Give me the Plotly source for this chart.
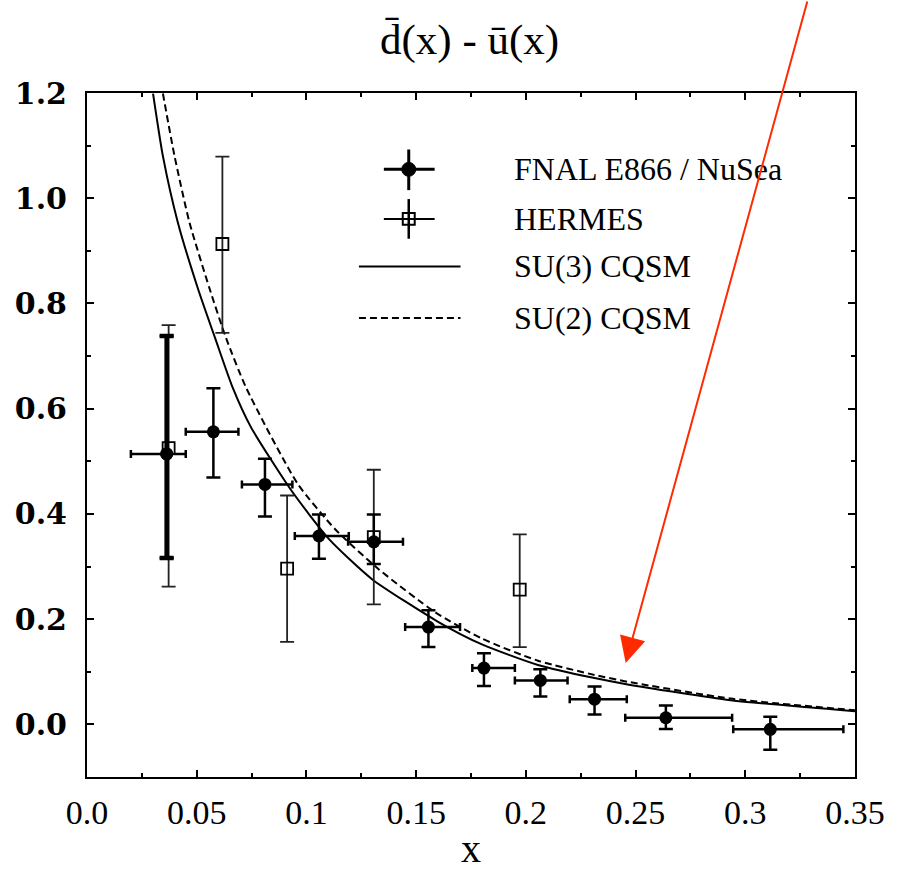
import plotly.graph_objects as go
import numpy as np

# ---- data ----
e866_x = [0.0363, 0.0576, 0.0811, 0.1057, 0.1307, 0.1556, 0.1809, 0.2066, 0.2313, 0.2638, 0.3114]
e866_y = [0.514, 0.556, 0.456, 0.358, 0.347, 0.185, 0.107, 0.0835, 0.048, 0.0126, -0.0094]
e866_y_hi = [0.738, 0.639, 0.505, 0.399, 0.399, 0.217, 0.135, 0.105, 0.072, 0.036, 0.0145]
e866_y_lo = [0.316, 0.469, 0.395, 0.315, 0.305, 0.147, 0.073, 0.053, 0.019, -0.009, -0.048]
e866_x_lo = [0.020, 0.045, 0.0706, 0.0947, 0.119, 0.145, 0.1756, 0.195, 0.220, 0.2453, 0.2945]
e866_x_hi = [0.045, 0.069, 0.0936, 0.1193, 0.144, 0.170, 0.195, 0.219, 0.246, 0.294, 0.3447]

hermes_x = [0.0372, 0.0617, 0.0912, 0.1307, 0.1972]
hermes_y = [0.525, 0.913, 0.296, 0.356, 0.256]
hermes_y_hi = [0.759, 1.079, 0.435, 0.484, 0.361]
hermes_y_lo = [0.262, 0.744, 0.157, 0.228, 0.147]

su3_x = [0.0301, 0.0346, 0.0414, 0.0505, 0.0584, 0.0664, 0.0747, 0.0929, 0.1103, 0.1299, 0.160, 0.180, 0.2055, 0.2313, 0.2464, 0.2933, 0.35]
su3_y = [1.199, 1.080, 0.954, 0.829, 0.734, 0.640, 0.565, 0.446, 0.352, 0.276, 0.195, 0.152, 0.113, 0.088, 0.076, 0.046, 0.025]
su2_x = [0.0346, 0.0399, 0.0467, 0.0558, 0.0634, 0.0725, 0.0959, 0.1133, 0.1329, 0.1587, 0.180, 0.2055, 0.2313, 0.2464, 0.2933, 0.35]
su2_y = [1.199, 1.080, 0.954, 0.829, 0.734, 0.640, 0.458, 0.370, 0.295, 0.213, 0.163, 0.121, 0.094, 0.081, 0.049, 0.027]

x_tickvals = [0.0, 0.05, 0.1, 0.15, 0.2, 0.25, 0.3, 0.35]
x_ticktext = ["0.0", "0.05", "0.1", "0.15", "0.2", "0.25", "0.3", "0.35"]
y_tickvals = [0.0, 0.2, 0.4, 0.6, 0.8, 1.0, 1.2]
y_ticktext = ["0.0", "0.2", "0.4", "0.6", "0.8", "1.0", "1.2"]

legend_labels = ["FNAL E866 / NuSea", "HERMES", "SU(3) CQSM", "SU(2) CQSM"]
title_text = "d\u0304(x) - \u016b(x)"
xlabel_text = "x"

# ---- derived error sizes ----
ey_p = np.array(e866_y_hi) - np.array(e866_y)
ey_m = np.array(e866_y) - np.array(e866_y_lo)
ex_p = np.array(e866_x_hi) - np.array(e866_x)
ex_m = np.array(e866_x) - np.array(e866_x_lo)
hy_p = np.array(hermes_y_hi) - np.array(hermes_y)
hy_m = np.array(hermes_y) - np.array(hermes_y_lo)

SERIF = "Liberation Serif"
fig = go.Figure()

fig.add_trace(go.Scatter(x=su3_x, y=su3_y, mode="lines", line=dict(color="black", width=2, shape="spline", smoothing=0.6), showlegend=False))
fig.add_trace(go.Scatter(x=su2_x, y=su2_y, mode="lines", line=dict(color="black", width=2, dash="7px,4px", shape="spline", smoothing=0.6), showlegend=False))

fig.add_trace(go.Scatter(
    x=hermes_x, y=hermes_y, mode="markers",
    marker=dict(symbol="square-open", size=12, color="black", line=dict(width=1.8)),
    error_y=dict(type="data", symmetric=False, array=hy_p, arrayminus=hy_m, color="#222", thickness=1.8, width=7),
    showlegend=False))

fig.add_trace(go.Scatter(
    x=e866_x, y=e866_y, mode="markers",
    marker=dict(symbol="circle", size=13, color="black"),
    error_y=dict(type="data", symmetric=False, array=ey_p, arrayminus=ey_m, color="black", thickness=2.5, width=7),
    error_x=dict(type="data", symmetric=False, array=ex_p, arrayminus=ex_m, color="black", thickness=2.5, width=4),
    showlegend=False))
# thicker statistical bar of first point
fig.add_trace(go.Scatter(
    x=e866_x[:1], y=e866_y[:1], mode="markers",
    marker=dict(symbol="circle", size=13, color="black"),
    error_y=dict(type="data", symmetric=False, array=ey_p[:1], arrayminus=ey_m[:1], color="black", thickness=4.5, width=7),
    showlegend=False))

# ---- layout geometry (pixels) ----
L, R, T, B = 87, 858, 93, 783
W, H = 897, 875
def px(xp): return (xp - L) / (R - L)
def py(yp): return (B - yp) / (B - T)

shapes = []
annotations = []
rows_y = [170, 220, 268, 320]
shapes += [
    dict(type="line", xref="paper", yref="paper", x0=px(385), x1=px(436), y0=py(170), y1=py(170), line=dict(color="black", width=3)),
    dict(type="line", xref="paper", yref="paper", x0=px(410), x1=px(410), y0=py(150), y1=py(191), line=dict(color="black", width=3)),
    dict(type="circle", xref="paper", yref="paper", x0=px(403), x1=px(417), y0=py(163), y1=py(177), fillcolor="black", line=dict(color="black", width=1)),
    dict(type="line", xref="paper", yref="paper", x0=px(385), x1=px(436), y0=py(220), y1=py(220), line=dict(color="black", width=2)),
    dict(type="line", xref="paper", yref="paper", x0=px(410), x1=px(410), y0=py(200), y1=py(240), line=dict(color="black", width=2.5)),
    dict(type="rect", xref="paper", yref="paper", x0=px(404), x1=px(416), y0=py(214), y1=py(226), fillcolor="rgba(0,0,0,0)", line=dict(color="black", width=2)),
    dict(type="line", xref="paper", yref="paper", x0=px(360), x1=px(462), y0=py(268), y1=py(268), line=dict(color="black", width=2)),
    dict(type="line", xref="paper", yref="paper", x0=px(360), x1=px(462), y0=py(320), y1=py(320), line=dict(color="black", width=2, dash="7px,4px")),
]
for lab, yy in zip(legend_labels, rows_y):
    annotations.append(dict(text=lab, xref="paper", yref="paper", x=px(514), y=py(yy), xanchor="left", yanchor="middle",
                            showarrow=False, font=dict(family=SERIF, size=32, color="black")))

# red arrow
annotations.append(dict(text="", xref="x", yref="y", x=0.2455, y=0.1168, axref="pixel", ayref="pixel",
                        ax=182, ay=-672, showarrow=True, arrowhead=2, arrowsize=2.6, arrowwidth=2, arrowcolor="#ff2a00",
                        standoff=0))
# title
annotations.append(dict(text=title_text, xref="paper", yref="paper", x=px(471), y=py(40), xanchor="center", yanchor="middle",
                        showarrow=False, font=dict(family=SERIF, size=43, color="black")))

fig.update_layout(
    width=W, height=H,
    margin=dict(l=L, r=W - R, t=T, b=H - B),
    paper_bgcolor="white", plot_bgcolor="white",
    shapes=shapes, annotations=annotations,
    showlegend=False,
)
fig.update_xaxes(
    range=[0, 0.35], tickvals=x_tickvals, ticktext=x_ticktext,
    showgrid=False, zeroline=False, showline=True, linecolor="black", linewidth=2, mirror="ticks",
    ticks="inside", ticklen=7, tickwidth=1.5, tickcolor="black",
    minor=dict(ticks="inside", ticklen=4, tickwidth=1.5, tickcolor="black", dtick=0.025, tick0=0, showgrid=False),
    tickfont=dict(family=SERIF, size=34, color="black"), ticklabelstandoff=4,
    title=dict(text=xlabel_text, font=dict(family=SERIF, size=40, color="black"), standoff=4),
)
fig.update_yaxes(
    range=[-0.1, 1.2], tickvals=y_tickvals, ticktext=y_ticktext,
    showgrid=False, zeroline=False, showline=True, linecolor="black", linewidth=2, mirror="ticks",
    ticks="inside", ticklen=7, tickwidth=1.5, tickcolor="black",
    minor=dict(ticks="inside", ticklen=4, tickwidth=1.5, tickcolor="black", dtick=0.1, tick0=0, showgrid=False),
    tickfont=dict(family="DejaVu Serif", size=30, color="black", weight="bold"), ticklabelstandoff=12,
)

fig.write_html("out.html")
